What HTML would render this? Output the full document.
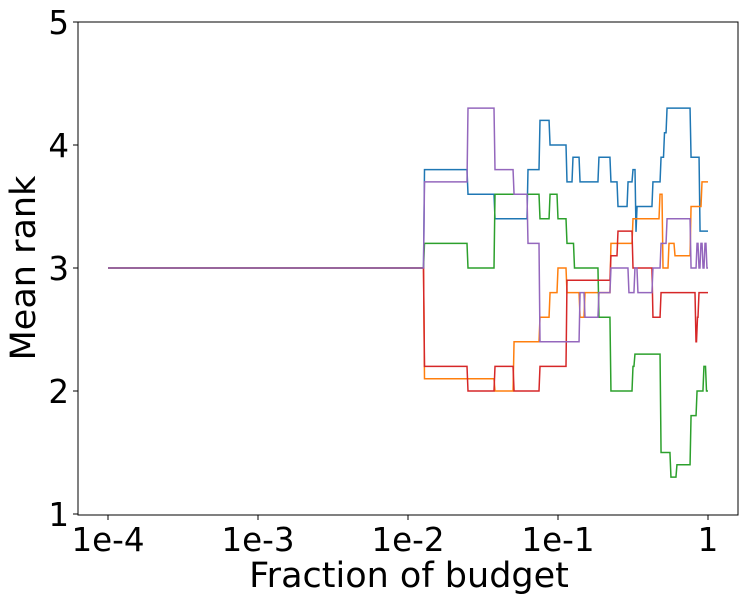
<!DOCTYPE html>
<html><head><meta charset="utf-8"><style>
body{margin:0;background:#fff}
svg{display:block;font-family:"DejaVu Sans","Liberation Sans",sans-serif}
</style></head><body>
<svg id="chart" width="747" height="604" viewBox="0 0 747 604">
<rect x="0" y="0" width="747" height="604" fill="#fff"/>
<g id="series"></g>
<g id="axes"></g>
<rect x="78" y="22" width="660" height="493" fill="none" stroke="#000" stroke-width="1"/>
<text x="409" y="587" font-size="35" text-anchor="middle">Fraction of budget</text>
<text transform="translate(35,268) rotate(-90)" font-size="35" text-anchor="middle">Mean rank</text>
</svg>
<script>
const xTickLogs=[-4,-3,-2,-1,0];
const xTickLabels=["1e-4","1e-3","1e-2","1e-1","1"];
const yTicks=[1,2,3,4,5];
const seriesColors=["#1f77b4","#ff7f0e","#2ca02c","#d62728","#9467bd"];
const seriesNames=["series-blue","series-orange","series-green","series-red","series-purple"];
// step breakpoints: [log10(fraction), mean rank]
const blueSteps=[[-4,3],[-1.89,3.8],[-1.6,3.6],[-1.42,3.4],[-1.2,3.8],[-1.12,4.2],[-1.053,4.0],[-0.94,3.7],[-0.9,3.9],[-0.853,3.7],[-0.727,3.9],[-0.647,3.7],[-0.6,3.5],[-0.533,3.7],[-0.5,3.8],[-0.48,3.3],[-0.473,3.5],[-0.367,3.7],[-0.313,3.9],[-0.29,4.1],[-0.273,4.3],[-0.113,3.9],[-0.053,3.3]];
const orangeSteps=[[-4,3],[-1.89,2.1],[-1.42,2.0],[-1.293,2.4],[-1.12,2.6],[-1.053,2.8],[-1.0,3.0],[-0.94,2.8],[-0.853,2.6],[-0.82,2.8],[-0.647,3.2],[-0.5,3.4],[-0.32,3.6],[-0.3,3.0],[-0.26,3.2],[-0.22,3.1],[-0.113,3.5],[-0.04,3.7]];
const greenSteps=[[-4,3],[-1.89,3.2],[-1.6,3.0],[-1.42,3.6],[-1.12,3.4],[-1.053,3.6],[-1.0,3.4],[-0.94,3.2],[-0.89,3.0],[-0.727,2.6],[-0.647,2.0],[-0.5,2.2],[-0.487,2.3],[-0.313,1.5],[-0.247,1.3],[-0.207,1.4],[-0.113,1.8],[-0.073,2.0],[-0.027,2.2],[-0.01,2.0]];
const redSteps=[[-4,3],[-1.89,2.2],[-1.6,2.0],[-1.42,2.2],[-1.293,2.0],[-1.12,2.2],[-0.94,2.9],[-0.647,3.1],[-0.6,3.3],[-0.5,3.0],[-0.367,2.6],[-0.313,2.8],[-0.08,2.4],[-0.07,2.6],[-0.06,2.8]];
const purpleSteps=[[-4,3],[-1.89,3.7],[-1.6,4.3],[-1.42,3.8],[-1.293,3.6],[-1.2,3.2],[-1.12,2.4],[-0.853,2.8],[-0.82,2.6],[-0.727,2.8],[-0.647,3.0],[-0.527,2.8],[-0.487,3.0],[-0.467,2.8],[-0.367,3.0],[-0.313,3.2],[-0.273,3.4],[-0.113,3.0],[-0.073,3.2],[-0.06,3.0],[-0.047,3.2],[-0.033,3.0],[-0.02,3.2],[-0.007,3.0]];
const allSteps=[blueSteps,orangeSteps,greenSteps,redSteps,purpleSteps];
const xEnd=0;

const NS="http://www.w3.org/2000/svg";
function xScale(l){return 108+(l+4)*150;}
function yScale(v){return 268-(v-3)*123;}
const axes=document.getElementById('axes');
xTickLogs.forEach((l,i)=>{
  const x=xScale(l);
  const t=document.createElementNS(NS,'line');
  t.setAttribute('x1',x);t.setAttribute('x2',x);t.setAttribute('y1',515);t.setAttribute('y2',520);t.setAttribute('stroke','#000');
  
  
  axes.appendChild(t);
  const tx=document.createElementNS(NS,'text');
  tx.setAttribute('x',x);tx.setAttribute('y',551);tx.setAttribute('font-size','32.5');tx.setAttribute('text-anchor','middle');
  tx.textContent=xTickLabels[i];
  
  
  axes.appendChild(tx);
});
yTicks.forEach(v=>{
  const y=yScale(v);
  const t=document.createElementNS(NS,'line');
  t.setAttribute('x1',73);t.setAttribute('x2',78);t.setAttribute('y1',y);t.setAttribute('y2',y);t.setAttribute('stroke','#000');
  
  
  axes.appendChild(t);
  const tx=document.createElementNS(NS,'text');
  tx.setAttribute('x',69);tx.setAttribute('y',y+12);tx.setAttribute('font-size','32.5');tx.setAttribute('text-anchor','end');
  tx.textContent=String(v);
  
  
  axes.appendChild(tx);
});
const sg=document.getElementById('series');
allSteps.forEach((steps,si)=>{
  let d='';
  steps.forEach((p,i)=>{
    const x=xScale(p[0]),y=yScale(p[1]);
    if(i===0)d+='M'+x+','+y;
    else d+=' L'+(x-1)+','+yScale(steps[i-1][1])+' L'+x+','+y;
  });
  d+=' L'+xScale(xEnd)+','+yScale(steps[steps.length-1][1]);
  const path=document.createElementNS(NS,'path');
  path.setAttribute('d',d);path.setAttribute('fill','none');path.setAttribute('stroke',seriesColors[si]);path.setAttribute('stroke-width','1.5');
  
  
  sg.appendChild(path);
});
</script>
</body></html>
